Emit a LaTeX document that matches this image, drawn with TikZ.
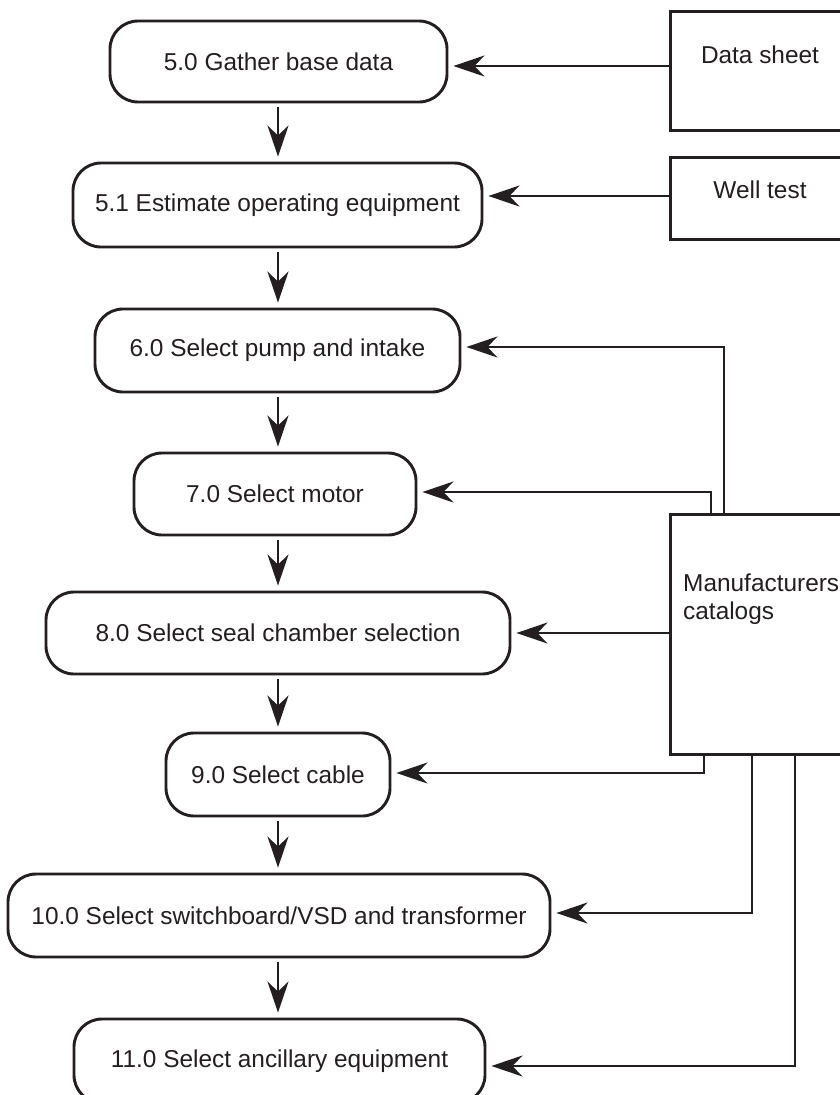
\documentclass[tikz,border=0pt]{standalone}
\usepackage{fontspec}
\setmainfont{Liberation Sans}
\usetikzlibrary{arrows.meta}
\definecolor{ink}{HTML}{231F20}
\begin{document}
\begin{tikzpicture}[x=1pt,y=-1pt,
  txtfont/.style={font=\fontsize{24.4}{28}\selectfont},
  proc/.style={draw=ink, line width=2.9pt, rounded corners=28pt, minimum height=82pt,
    inner sep=0pt, text=ink, txtfont},
  src/.style={draw=ink, line width=2.9pt, inner sep=0pt, anchor=north west},
  lbl/.style={text=ink, inner sep=0pt, txtfont},
  arr/.style={draw=ink, line width=2.7pt, -{Stealth[length=31pt,width=21pt,inset=10pt]}, shorten >=5pt},
  flow/.style={arr, shorten <=4pt}
]
\clip (0,0) rectangle (840,1095);
\fill[white] (0,0) rectangle (840,1095);

% process boxes
\node[proc, minimum width=337pt, minimum height=81pt] (b50) at (278.5,61.5) {5.0 Gather base data};
\node[proc, minimum width=409pt, minimum height=84pt] (b51) at (277.5,205) {5.1 Estimate operating equipment};
\node[proc, minimum width=365pt, minimum height=83pt] (b60) at (277.5,350.5) {6.0 Select pump and intake};
\node[proc, minimum width=282pt] (b70) at (275,494) {7.0 Select motor};
\node[proc, minimum width=464pt] (b80) at (278,633) {8.0 Select seal chamber selection};
\node[proc, minimum width=224pt, minimum height=83pt] (b90) at (278,774.5) {9.0 Select cable};
\node[proc, minimum width=542pt, minimum height=83pt] (b100) at (279,915.5) {10.0 Select switchboard/VSD and transformer};
\node[proc, minimum width=411pt, minimum height=84pt] (b110) at (279.5,1061) {11.0 Select ancillary equipment};

% source boxes
\node[src, minimum width=190pt, minimum height=119pt] (ds) at (669,10) {};
\node[lbl] (dst) at (760,55) {Data sheet};
\node[src, minimum width=190pt, minimum height=82pt] (wt) at (669,156) {};
\node[lbl] (wtt) at (760,190) {Well test};
\node[src, minimum width=200pt, minimum height=240pt] (mc) at (669,513) {};
\node[lbl, align=left, anchor=west] (mct) at (683,599) {Manufacturers\\catalogs};

% main flow (vertical line at x = 278)
\coordinate (axis) at (278,0);
\draw[flow] (b50.south -| axis) -- (b51.north -| axis);
\draw[flow] (b51.south -| axis) -- (b60.north -| axis);
\draw[flow] (b60.south -| axis) -- (b70.north -| axis);
\draw[flow] (b70.south -| axis) -- (b80.north -| axis);
\draw[flow] (b80.south -| axis) -- (b90.north -| axis);
\draw[flow] (b90.south -| axis) -- (b100.north -| axis);
\draw[flow] (b100.south -| axis) -- (b110.north -| axis);

% inputs
\draw[arr] (ds.west |- 0,66) -- (b50.east |- 0,66);
\draw[arr] (wt.west |- 0,196) -- (b51.east |- 0,196);
\draw[arr] (mc.north -| 724,0) |- (b60.east |- 0,347);
\draw[arr] (mc.north -| 711,0) |- (b70.east |- 0,492);
\draw[arr] (mc.west |- 0,633) -- (b80.east |- 0,633);
\draw[arr] (mc.south -| 704,0) |- (b90.east |- 0,773);
\draw[arr] (mc.south -| 752,0) |- (b100.east |- 0,913);
\draw[arr] (mc.south -| 795,0) |- (b110.east |- 0,1066);
\end{tikzpicture}
\end{document}
